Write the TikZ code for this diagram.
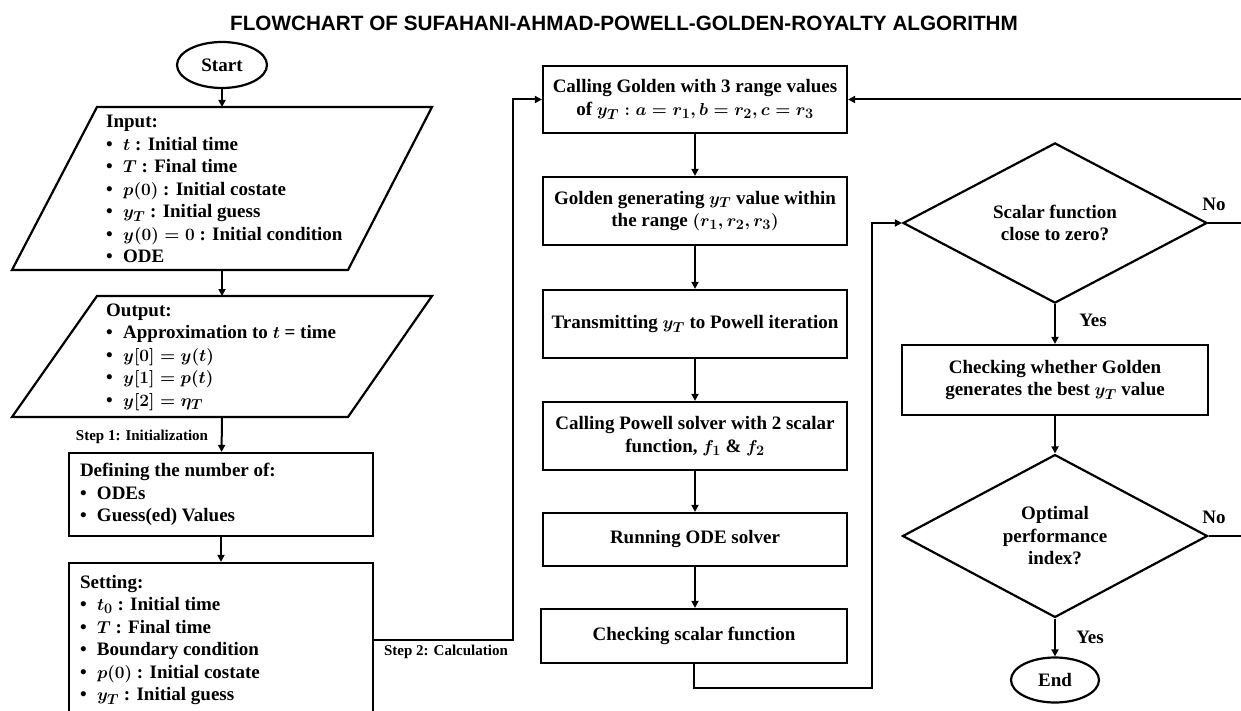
\documentclass[tikz,border=0pt]{standalone}
\usepackage{fontspec}
\setmainfont{Liberation Serif}
\newfontfamily\titlefont{Liberation Sans}
\usetikzlibrary{shapes.geometric,arrows.meta}
\newcommand\bul{\makebox[17pt][l]{\textbullet}}
\begin{document}
\begin{tikzpicture}[x=1pt,y=-1pt,
  font=\bfseries\boldmath\fontsize{19}{22.5}\selectfont,
  box/.style={draw, line width=2.2pt, minimum width=304pt, minimum height=68pt, align=center, inner sep=0pt},
  dec/.style={draw, diamond, line width=2.2pt, minimum width=304pt, minimum height=151pt, align=center, inner sep=0pt},
  term/.style={draw, ellipse, line width=2.2pt, minimum width=90pt, minimum height=46pt, inner sep=0pt},
  arr/.style={-{Triangle[length=7pt,width=7pt]}, line width=2pt},
  wire/.style={line width=2pt},
  lbl/.style={font=\bfseries\fontsize{15}{18}\selectfont, inner sep=0pt},
  lst/.style={align=left, inner sep=0pt},
  para/.style={line width=2.2pt, line join=miter}]
\useasboundingbox (0,0) rectangle (1241,711);
\clip (0,0) rectangle (1241,711);

% title
\node[font=\titlefont\bfseries\fontsize{20.7}{24}\selectfont, inner sep=0pt] (title) at (624,23)
  {FLOWCHART OF SUFAHANI-AHMAD-POWELL-GOLDEN-ROYALTY ALGORITHM};

% left column
\node[term] (start) at (222,65) {Start};

\draw[para] (97,107) -- (432,107) -- (348,270) -- (12,270) -- cycle;
\coordinate (inTop) at (222,107);
\coordinate (inBot) at (222,270);
\node[lst, anchor=west] (intext) at (106,189) {Input:\\
\bul $t$ : Initial time\\
\bul $T$ : Final time\\
\bul $p(0)$ : Initial costate\\
\bul $y_T$ : Initial guess\\
\bul $y(0)=0$ : Initial condition\\
\bul ODE};

\draw[para] (97,296) -- (432,296) -- (348,417) -- (12,417) -- cycle;
\coordinate (outTop) at (222,296);
\coordinate (outBot) at (222,417);
\node[lst, anchor=west] (outtext) at (106,357) {Output:\\
\bul Approximation to $t$ = time\\
\bul $y[0]=y(t)$\\
\bul $y[1]=p(t)$\\
\bul $y[2]=\eta_T$};

\node[box, minimum height=83pt, text width=282pt, align=flush left] (def) at (221,494.5) {Defining the number of:\\
\bul ODEs\\
\bul Guess(ed) Values};

\node[box, minimum height=154pt, text width=282pt, align=flush left] (set) at (221,640) {Setting:\\
\bul $t_0$ : Initial time\\
\bul $T$ : Final time\\
\bul Boundary condition\\
\bul $p(0)$ : Initial costate\\
\bul $y_T$ : Initial guess};

\draw[arr] (start) -- (inTop);
\draw[arr] (inBot) -- (outTop);
\draw[arr] (outBot) -- (def);
\draw[arr] (def) -- (set);
\node[lbl] (step1) at (142,437) {Step 1: Initialization};
\node[lbl] (step2) at (446,652) {Step 2: Calculation};

% middle column
\node[box, minimum height=67pt] (g1) at (695,99.5) {Calling Golden with 3 range values\\ of $y_T : a = r_1, b = r_2, c = r_3$};
\node[box] (g2) at (695,211) {Golden generating $y_T$ value within\\ the range $(r_1, r_2, r_3)$};
\node[box] (g3) at (695,324) {Transmitting $y_T$ to Powell iteration};
\node[box] (g4) at (695,436) {Calling Powell solver with 2 scalar\\ function, $f_1$ \& $f_2$};
\node[box, minimum height=53pt] (g5) at (695,539.5) {Running ODE solver};
\node[box, minimum height=54pt, minimum width=306pt] (g6) at (694,636) {Checking scalar function};

\coordinate (c2) at (513,640);
\draw[arr] (set.east) -- (c2) |- (g1.west);
\draw[arr] (g1) -- (g2);
\draw[arr] (g2) -- (g3);
\draw[arr] (g3) -- (g4);
\draw[arr] (g4) -- (g5);
\draw[arr] (g5.south) -- (g5.south |- g6.north);

% right column
\node[dec] (d1) at (1055,223) {Scalar function\\ close to zero?};
\node[box, minimum width=306pt, minimum height=70pt] (b7) at (1055,380) {Checking whether Golden\\ generates the best $y_T$ value};
\node[dec, minimum width=305pt, minimum height=152pt] (d2) at (1055,536) {Optimal\\ performance\\ index?};
\node[term, minimum width=88pt, minimum height=45pt] (end) at (1055,680) {End};

\coordinate (c6) at (872,688);
\draw[arr] (g6.south) |- (c6) |- (d1.west);
\draw[arr] (d1) -- (b7);
\draw[arr] (b7) -- (d2);
\draw[arr] (d2) -- (end);

\coordinate (r0) at (1250,99.5);
\coordinate (r1) at (1250,223);
\coordinate (r2) at (1250,536);
\draw[wire] (d1.east) -- (r1);
\draw[wire] (d2.east) -- (r2);
\draw[arr] (r0) -- (g1.east);

\node (yes1) at (1093,320) {Yes};
\node (yes2) at (1090,637) {Yes};
\node (no1) at (1214,204) {No};
\node (no2) at (1214,517) {No};
\end{tikzpicture}
\end{document}
